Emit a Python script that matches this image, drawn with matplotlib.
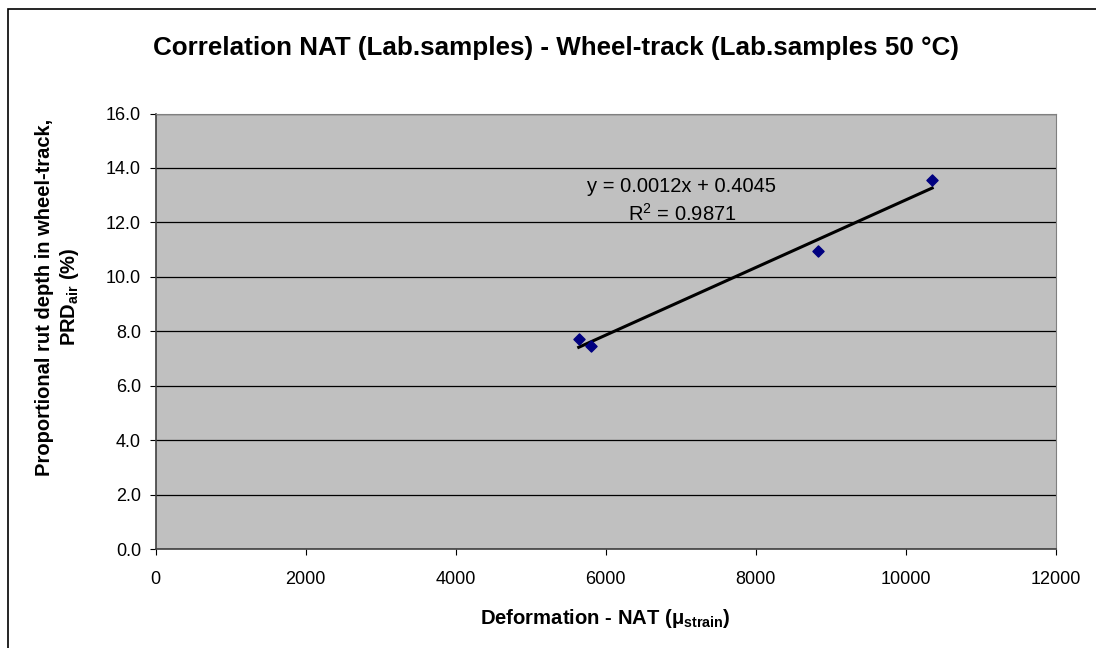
import numpy as np
import matplotlib.pyplot as plt
from matplotlib.patches import Rectangle

plt.rcParams['font.family'] = ['Liberation Sans', 'DejaVu Sans']
plt.rcParams['mathtext.fontset'] = 'custom'
plt.rcParams['mathtext.rm'] = 'Liberation Sans'
plt.rcParams['mathtext.bf'] = 'Liberation Sans:bold'

# data
deformation = [5640, 5800, 8825, 10350]
rut_depth = [7.7, 7.45, 10.95, 13.55]

x_ticks = [0, 2000, 4000, 6000, 8000, 10000, 12000]
y_ticks = [0, 2, 4, 6, 8, 10, 12, 14, 16]

W, H = 1096, 648
fig = plt.figure(figsize=(W / 100, H / 100), dpi=100)
ax = fig.add_axes([155.5 / W, 1 - 549 / H, (1056 - 155.5) / W, (549 - 113.5) / H])

# outer chart border (runs off the canvas to the right/bottom)
fig.patches.append(Rectangle((8 / W, -0.1), 1.2, 1 - 9 / H + 0.1, transform=fig.transFigure,
                             fill=False, edgecolor='black', linewidth=1.2))

ax.set_facecolor('#C0C0C0')
ax.set_xlim(0, 12000)
ax.set_ylim(0, 16)
ax.set_xticks(x_ticks)
ax.set_yticks(y_ticks)
ax.set_yticklabels([f'{v:.1f}' for v in y_ticks])
ax.tick_params(labelsize=13, direction='out', length=4.5, color='black', pad=6)
ax.tick_params(axis='x', pad=11)
ax.grid(axis='y', color='black', linewidth=0.9)
ax.set_axisbelow(True)
for s in ['top', 'right']:
    ax.spines[s].set_color('#808080')
for s in ['left', 'bottom']:
    ax.spines[s].set_color('#404040')
    ax.spines[s].set_linewidth(1.2)

# linear trendline
x = np.array(deformation)
y = np.array(rut_depth)
k, b = np.polyfit(x, y, 1)
xs = np.array([x.min(), x.max()])
ax.plot(xs, k * xs + b, color='black', linewidth=2.2, zorder=3)

ax.scatter(deformation, rut_depth, marker='D', s=32, color='#000080', zorder=4)

ax.text(7016, 13.11, 'y = 0.0012x + 0.4045', fontsize=14.5, ha='center', va='baseline')
ax.text(7016, 12.07, 'R$^2$ = 0.9871', fontsize=14.5, ha='center', va='baseline')

fig.text(556 / W, 1 - 54.5 / H, 'Correlation NAT (Lab.samples) - Wheel-track (Lab.samples 50 °C)',
         fontsize=18.7, fontweight='bold', ha='center', va='baseline')
ax.set_xlabel(r'Deformation - NAT (μ$_{\mathbf{strain}}$)', fontsize=14.6, fontweight='bold', labelpad=14)
fig.text(58 / W, 1 - 297 / H, 'Proportional rut depth in wheel-track,\n' + r'PRD$_{\mathbf{air}}$ (%)',
         fontsize=14.5, fontweight='bold', rotation=90, ha='center', va='center',
         multialignment='center', linespacing=1.25)

fig.savefig('out.png', dpi=100)
